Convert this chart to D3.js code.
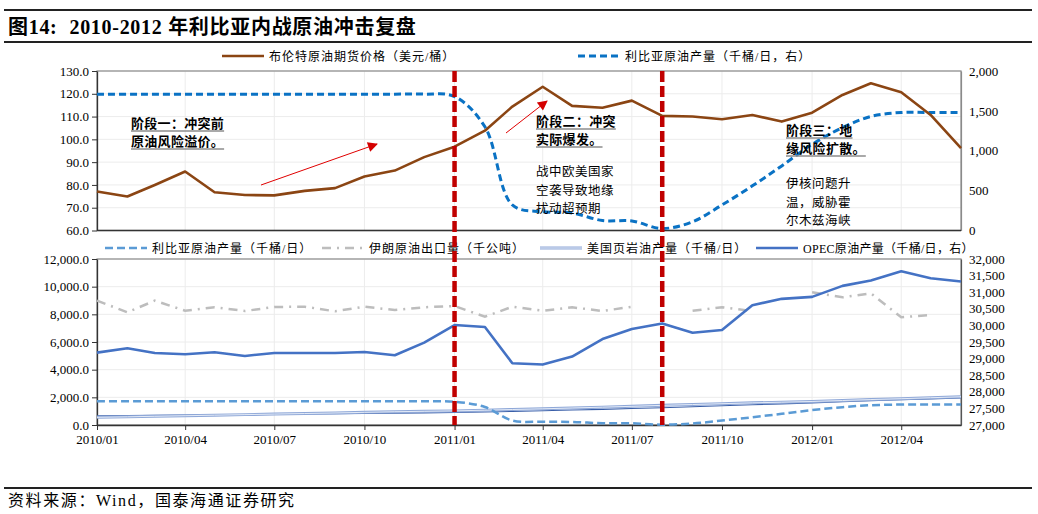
<!DOCTYPE html>
<html lang="zh">
<head>
<meta charset="UTF-8">
<title>2010-2012 年利比亚内战原油冲击复盘</title>
<script src="https://cdn.jsdelivr.net/npm/d3@7"></script>
<style>
body { margin: 0; background: #fff; }
text { font-family: "Liberation Serif", "Noto Sans CJK SC", serif; fill: #000; }
</style>
</head>
<body>
<script>

var months = ["2010/01","2010/02","2010/03","2010/04","2010/05","2010/06","2010/07","2010/08","2010/09","2010/10","2010/11","2010/12",
              "2011/01","2011/02","2011/03","2011/04","2011/05","2011/06","2011/07","2011/08","2011/09","2011/10","2011/11","2011/12",
              "2012/01","2012/02","2012/03","2012/04","2012/05","2012/06"];
var xTickLabels = ["2010/01","2010/04","2010/07","2010/10","2011/01","2011/04","2011/07","2011/10","2012/01","2012/04"];
var eventMonths = ["2011/01", "2011/08"];

// 布伦特 (美元/桶)
var brent = [77.1, 74.9, 80.0, 85.9, 76.8, 75.6, 75.4, 77.4, 78.6, 83.7, 86.3, 92.2,
             96.8, 103.8, 114.4, 123.1, 114.7, 113.9, 117.0, 110.3, 110.0, 108.8, 110.7, 107.8,
             111.7, 119.5, 124.6, 120.7, 110.7, 96.1];
// 利比亚原油产量 (千桶/日)
var libya = [1710, 1710, 1710, 1710, 1710, 1710, 1710, 1710, 1710, 1710, 1710, 1710,
             1680, 1300, 320, 235, 220, 125, 120, 25, 110, 320, 560, 810,
             1080, 1290, 1430, 1480, 1480, 1480];
// 伊朗原油出口量 (千公吨)
var iran = [8990, 8150, 8990, 8260, 8510, 8240, 8530, 8550, 8220, 8550, 8310, 8510,
            8600, 7830, 8550, 8260, 8510, 8240, 8550, null, 8260, 8510, 8240, null,
            9590, 9230, 9520, 7790, 7950, null];
// 美国页岩油产量 (千桶/日)
var shale = [555, 590, 630, 670, 710, 750, 790, 830, 870, 915, 960, 990,
             1020, 1070, 1120, 1170, 1230, 1290, 1350, 1420, 1480, 1540, 1600, 1650,
             1700, 1770, 1840, 1900, 1970, 2040];
var shaleThin = [670, 685, 700, 715, 730, 750, 770, 790, 810, 830, 850, 875,
                 900, 940, 980, 1030, 1080, 1130, 1190, 1250, 1320, 1390, 1460, 1530,
                 1600, 1680, 1750, 1820, 1890, 1960];
// OPEC原油产量 (千桶/日, 右)
var opec = [29180, 29310, 29170, 29130, 29190, 29080, 29170, 29170, 29170, 29200, 29100, 29480,
            30010, 29950, 28860, 28820, 29060, 29590, 29890, 30060, 29780, 29860, 30610, 30800,
            30860, 31190, 31350, 31630, 31420, 31320];

var w = 1038, h = 514;
var left = 97, right = 961;
var topY0 = 71, topY1 = 230.5, botY0 = 259, botY1 = 425;
var serif = '"Liberation Serif", "Noto Sans CJK SC", serif';

var parse = d3.timeParse("%Y/%m");
var dates = months.map(parse);

var svg = d3.select("body").append("svg")
    .attr("width", w)
    .attr("height", h);

var x = d3.scaleTime().domain([dates[0], dates[dates.length - 1]]).range([left, right]);
var yTop = d3.scaleLinear().domain([60, 130]).range([topY1, topY0]);
var yTopR = d3.scaleLinear().domain([0, 2000]).range([topY1, topY0]);
var yBot = d3.scaleLinear().domain([0, 12000]).range([botY1, botY0]);
var yBotR = d3.scaleLinear().domain([27000, 32000]).range([botY1, botY0]);
var xTicks = xTickLabels.map(parse);

// title and rules
svg.append("line").attr("x1", 4).attr("x2", 1032).attr("y1", 10).attr("y2", 10).attr("stroke", "#222").attr("stroke-width", 2);
svg.append("line").attr("x1", 4).attr("x2", 1032).attr("y1", 42).attr("y2", 42).attr("stroke", "#222").attr("stroke-width", 2);
var title = svg.append("text").attr("x", 8).attr("y", 34).attr("font-size", 20).attr("font-weight", "bold")
    .attr("letter-spacing", 0.7);
title.append("tspan").text("图14:");
title.append("tspan").attr("dx", 12).text("2010-2012 年利比亚内战原油冲击复盘");
svg.append("line").attr("x1", 4).attr("x2", 1032).attr("y1", 488).attr("y2", 488).attr("stroke", "#222").attr("stroke-width", 2);
svg.append("text").attr("x", 8).attr("y", 506).attr("font-size", 16).attr("letter-spacing", 1.6)
    .text("资料来源：Wind，国泰海通证券研究");

function grid(yScale, yTicks, y0, y1) {
    var g = svg.append("g");
    g.selectAll(".hg").data(yTicks).enter().append("line")
        .attr("x1", left).attr("x2", right)
        .attr("y1", function(d) { return yScale(d); })
        .attr("y2", function(d) { return yScale(d); })
        .attr("stroke", "#ececec").attr("stroke-width", 1);
    g.selectAll(".vg").data(xTicks.slice(1)).enter().append("line")
        .attr("x1", function(d) { return x(d); })
        .attr("x2", function(d) { return x(d); })
        .attr("y1", y0).attr("y2", y1)
        .attr("stroke", "#ececec").attr("stroke-width", 1);
    svg.append("rect").attr("x", left).attr("y", y0).attr("width", right - left).attr("height", y1 - y0)
        .attr("fill", "none").attr("stroke", "#8a8a8a").attr("stroke-width", 1.2);
}

function styleAxis(g) {
    g.selectAll("text").attr("font-family", serif).attr("font-size", 13).attr("fill", "#000");
    g.selectAll("line").attr("stroke", "#333");
    g.select(".domain").attr("stroke", "#333").attr("stroke-width", 1.3);
}

// ---------- top chart ----------
grid(yTop, d3.range(60, 131, 10), topY0, topY1);

svg.append("g").attr("transform", "translate(" + left + ",0)")
    .call(d3.axisLeft(yTop).tickValues(d3.range(60, 131, 10)).tickFormat(d3.format(".1f")).tickSize(5).tickPadding(3).tickSizeOuter(0))
    .call(styleAxis);
svg.append("g").attr("transform", "translate(" + right + ",0)")
    .call(d3.axisRight(yTopR).tickValues([0, 500, 1000, 1500, 2000]).tickFormat(d3.format(",")).tickSize(0).tickPadding(8))
    .call(styleAxis)
    .select(".domain").attr("stroke", "#8a8a8a").attr("stroke-width", 1.2);
svg.append("line").attr("x1", left).attr("x2", right).attr("y1", topY1).attr("y2", topY1)
    .attr("stroke", "#333").attr("stroke-width", 1.3);

var libyaTop = d3.line()
    .x(function(d, i) { return x(dates[i]); })
    .y(function(d) { return yTopR(d); })
    .curve(d3.curveCatmullRom.alpha(0.5));
svg.append("path").datum(libya).attr("d", libyaTop)
    .attr("fill", "none").attr("stroke", "#0a72c4").attr("stroke-width", 3).attr("stroke-dasharray", "7,4");

var brentLine = d3.line()
    .x(function(d, i) { return x(dates[i]); })
    .y(function(d) { return yTop(d); });
svg.append("path").datum(brent).attr("d", brentLine)
    .attr("fill", "none").attr("stroke", "#8b4513").attr("stroke-width", 2.6).attr("stroke-linejoin", "round");

// ---------- bottom chart ----------
grid(yBot, d3.range(0, 12001, 2000), botY0, botY1);

svg.append("g").attr("transform", "translate(" + left + ",0)")
    .call(d3.axisLeft(yBot).tickValues(d3.range(0, 12001, 2000)).tickFormat(d3.format(",.1f")).tickSize(5).tickPadding(3).tickSizeOuter(0))
    .call(styleAxis);
svg.append("g").attr("transform", "translate(" + right + ",0)")
    .call(d3.axisRight(yBotR).tickValues(d3.range(27000, 32001, 500)).tickFormat(d3.format(",")).tickSize(0).tickPadding(8))
    .call(styleAxis)
    .select(".domain").attr("stroke", "#555").attr("stroke-width", 1.2);
svg.append("g").attr("transform", "translate(0," + botY1 + ")")
    .call(d3.axisBottom(x).tickValues(xTicks).tickFormat(d3.timeFormat("%Y/%m")).tickSize(5).tickPadding(5).tickSizeOuter(0))
    .call(styleAxis);

function lineOn(yScale, curve) {
    var l = d3.line()
        .defined(function(d) { return d != null; })
        .x(function(d, i) { return x(dates[i]); })
        .y(function(d) { return yScale(d); });
    if (curve) l.curve(curve);
    return l;
}

svg.append("path").datum(iran).attr("d", lineOn(yBot))
    .attr("fill", "none").attr("stroke", "#bdbdbd").attr("stroke-width", 2.5).attr("stroke-dasharray", "9,6,2,6");
svg.append("path").datum(shaleThin).attr("d", lineOn(yBot))
    .attr("fill", "none").attr("stroke", "#3a5fa8").attr("stroke-width", 1.1);
svg.append("path").datum(shale).attr("d", lineOn(yBot))
    .attr("fill", "none").attr("stroke", "#8fa8d8").attr("stroke-width", 3);
svg.append("path").datum(shale).attr("d", lineOn(yBot))
    .attr("fill", "none").attr("stroke", "#e4ebf7").attr("stroke-width", 1);
svg.append("path").datum(libya).attr("d", lineOn(yBot, d3.curveCatmullRom.alpha(0.5)))
    .attr("fill", "none").attr("stroke", "#5b9bd5").attr("stroke-width", 2.5).attr("stroke-dasharray", "8,4");
svg.append("path").datum(opec).attr("d", lineOn(yBotR))
    .attr("fill", "none").attr("stroke", "#4472c4").attr("stroke-width", 2.6).attr("stroke-linejoin", "round");

// ---------- legends ----------
function legendItem(x0, y0, label, stroke, width, dash, inner, spacing) {
    svg.append("line").attr("x1", x0).attr("x2", x0 + 42).attr("y1", y0).attr("y2", y0)
        .attr("stroke", stroke).attr("stroke-width", width).attr("stroke-dasharray", dash || null);
    if (inner) {
        svg.append("line").attr("x1", x0).attr("x2", x0 + 42).attr("y1", y0).attr("y2", y0)
            .attr("stroke", inner).attr("stroke-width", 1);
    }
    svg.append("text").attr("x", x0 + 47).attr("y", y0 + 4.5).attr("font-size", 12)
        .attr("letter-spacing", spacing == null ? 1 : spacing).text(label);
}
legendItem(222, 56, "布伦特原油期货价格（美元/桶）", "#8b4513", 2.6);
legendItem(578, 56, "利比亚原油产量（千桶/日，右）", "#0a72c4", 3, "7,4");
legendItem(105, 248, "利比亚原油产量（千桶/日）", "#5b9bd5", 2.5, "8,4");
legendItem(322, 248, "伊朗原油出口量（千公吨）", "#bdbdbd", 2.5, "9,6,2,6");
legendItem(540, 248, "美国页岩油产量（千桶/日）", "#8fa8d8", 3, null, "#e4ebf7");
legendItem(756, 248, "OPEC原油产量（千桶/日，右）", "#4472c4", 2.6, null, null, 0.3);

// ---------- event lines ----------
svg.selectAll(".event").data(eventMonths).enter().append("line")
    .attr("x1", function(d) { return x(parse(d)); })
    .attr("x2", function(d) { return x(parse(d)); })
    .attr("y1", topY0).attr("y2", botY1)
    .attr("stroke", "#c00000").attr("stroke-width", 4.5).attr("stroke-dasharray", "11,4");

// ---------- annotations ----------
svg.append("defs").append("marker")
    .attr("id", "arrow").attr("viewBox", "0 0 10 10").attr("refX", 9).attr("refY", 5)
    .attr("markerWidth", 12).attr("markerHeight", 10).attr("markerUnits", "userSpaceOnUse")
    .attr("orient", "auto")
    .append("path").attr("d", "M0,0 L10,5 L0,10 z").attr("fill", "#d40000");

var arrows = [[261, 185, 377, 144], [506, 133, 547, 101]];
arrows.forEach(function(a) {
    svg.append("line").attr("x1", a[0]).attr("y1", a[1]).attr("x2", a[2]).attr("y2", a[3])
        .attr("stroke", "#e00000").attr("stroke-width", 1).attr("marker-end", "url(#arrow)");
});

var stageNotes = [
    {x: 131, y: 128, lines: ["阶段一：冲突前", "原油风险溢价。"]},
    {x: 536, y: 126, lines: ["阶段二：冲突", "实际爆发。"]},
    {x: 786, y: 135, lines: ["阶段三：地", "缘风险扩散。"]}
];
stageNotes.forEach(function(n) {
    n.lines.forEach(function(t, i) {
        var yy = n.y + i * 18;
        var tx = svg.append("text").attr("x", n.x).attr("y", yy).attr("font-size", 13)
            .attr("font-weight", "bold").attr("letter-spacing", 0.3).text(t);
        var len = tx.node().getComputedTextLength();
        svg.append("line").attr("x1", n.x).attr("x2", n.x + len).attr("y1", yy + 3).attr("y2", yy + 3)
            .attr("stroke", "#8c8c8c").attr("stroke-width", 1.6);
    });
});

var plainNotes = [
    {x: 536, y: 176, lines: ["战中欧美国家", "空袭导致地缘", "扰动超预期"]},
    {x: 786, y: 188, lines: ["伊核问题升", "温，威胁霍", "尔木兹海峡"]}
];
plainNotes.forEach(function(n) {
    n.lines.forEach(function(t, i) {
        svg.append("text").attr("x", n.x).attr("y", n.y + i * 18.5).attr("font-size", 12.5)
            .attr("letter-spacing", 0.5).attr("fill", "#222").text(t);
    });
});

</script>
</body>
</html>
